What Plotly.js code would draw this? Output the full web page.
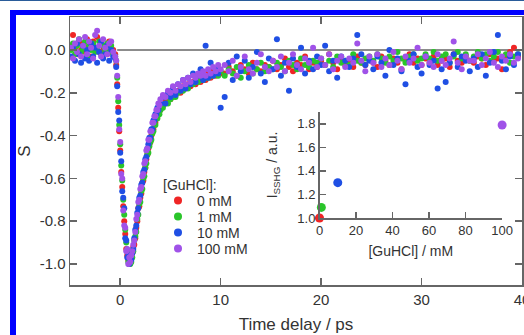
<!DOCTYPE html>
<html>
<head>
<meta charset="utf-8">
<script src="https://cdn.plot.ly/plotly-3.0.1.min.js"></script>
<style>
html,body{margin:0;padding:0;background:#fff;}
#wrap{position:relative;width:524px;height:335px;overflow:hidden;}
#chart{position:absolute;left:0;top:0;width:524px;height:335px;}
.bd{position:absolute;z-index:5;}
</style>
</head>
<body>
<div id="wrap">
<div id="chart"></div>
<div class="bd" style="left:0;top:0;width:524px;height:1px;background:#2a5c9a;"></div>
<div class="bd" style="left:10px;top:10px;width:514px;height:5px;background:#0000ff;"></div>
<div class="bd" style="left:10px;top:10px;width:6px;height:325px;background:#0000ff;"></div>
</div>
<script>
// ---- data ----
const timeDelay = [
  -4.9,-4.7,-4.5,-4.3,-4.1,-3.9,-3.7,-3.5,-3.3,-3.1,-2.9,-2.7,-2.5,-2.3,-2.1,-1.9,-1.7,-1.5,-1.3,-1.1,-0.9,-0.7,-0.5,
  -0.4,-0.3,-0.2,-0.1,0,0.1,0.2,0.3,0.4,0.5,0.6,
  0.7,0.8,0.9,1.0,1.1,1.2,1.3,1.4,
  1.5,1.6,1.7,1.8,1.9,2.0,2.1,2.2,2.3,2.4,2.5,2.6,2.7,2.8,2.9,3.0,3.1,3.2,3.3,3.4,3.5,3.6,3.7,3.8,3.9,4.0,
  4.25,4.5,4.75,5,5.25,5.5,5.75,6,6.25,6.5,6.75,7,7.25,7.5,7.75,8,8.25,8.5,8.75,9,9.25,9.5,9.75,10,
  10.4,10.8,11.2,11.6,12.0,12.4,12.8,13.2,13.6,14.0,14.4,14.8,
  15.2,15.6,16.0,16.4,16.8,17.2,17.6,18.0,18.4,18.8,19.2,19.6,
  20.0,20.4,20.8,21.2,21.6,22.0,22.4,22.8,23.2,23.6,24.0,24.4,24.8,
  25.2,25.6,26.0,26.4,26.8,27.2,27.6,28.0,28.4,28.8,29.2,29.6,30.0,
  30.4,30.8,31.2,31.6,32.0,32.4,32.8,33.2,33.6,34.0,34.4,34.8,
  35.2,35.6,36.0,36.4,36.8,37.2,37.6,38.0,38.4,38.8,39.2,39.6
];

const s0mM = [
  0.02,0.07,0.01,-0.02,0.04,0.00,0.03,-0.01,0.05,0.02,-0.03,0.04,0.01,0.06,-0.01,0.03,0.00,0.02,-0.02,0.04,0.01,0.00,-0.02,
  -0.07,-0.16,-0.27,-0.38,-0.47,-0.57,-0.64,-0.73,-0.80,-0.86,-0.93,
  -0.96,-0.98,-1.00,-0.98,-0.97,-0.95,-0.92,-0.91,
  -0.88,-0.83,-0.80,-0.74,-0.73,-0.69,-0.67,-0.62,-0.61,-0.57,-0.55,-0.51,-0.49,-0.46,-0.44,-0.43,-0.40,-0.38,-0.37,-0.34,-0.34,-0.31,-0.31,-0.29,-0.28,-0.28,
  -0.26,-0.24,-0.23,-0.23,-0.21,-0.21,-0.19,-0.20,-0.17,-0.18,-0.16,-0.17,-0.15,-0.16,-0.13,-0.15,-0.12,-0.14,-0.11,-0.13,-0.10,-0.12,-0.09,-0.11,
  -0.11,-0.08,-0.10,-0.12,-0.07,-0.09,-0.11,-0.06,-0.09,-0.10,-0.07,-0.08,
  -0.05,-0.09,-0.07,-0.04,-0.08,-0.10,-0.06,-0.07,-0.03,-0.09,-0.06,-0.08,
  -0.05,-0.07,-0.02,-0.06,-0.09,-0.04,-0.07,-0.05,-0.08,-0.03,-0.06,-0.07,-0.04,
  -0.06,-0.08,-0.03,-0.05,-0.07,-0.04,-0.06,-0.09,-0.05,-0.02,-0.06,-0.04,-0.07,
  -0.04,-0.06,-0.03,-0.07,-0.05,-0.04,-0.08,-0.02,-0.05,-0.06,-0.03,-0.05,
  -0.06,-0.03,-0.04,-0.07,-0.02,-0.05,-0.04,-0.09,-0.03,-0.01,0.01,-0.03
];

const s1mM = [
  0.00,0.03,-0.02,0.02,0.05,-0.01,0.01,0.04,-0.03,0.02,0.00,0.03,-0.01,0.01,0.04,-0.02,0.02,0.00,0.03,-0.01,0.02,-0.02,-0.03,
  -0.05,-0.13,-0.24,-0.35,-0.44,-0.54,-0.61,-0.70,-0.77,-0.84,-0.90,
  -0.94,-0.99,-0.98,-1.00,-0.99,-0.97,-0.94,-0.89,
  -0.87,-0.85,-0.79,-0.77,-0.72,-0.71,-0.66,-0.65,-0.60,-0.59,-0.55,-0.53,-0.49,-0.48,-0.45,-0.43,-0.42,-0.39,-0.38,-0.35,-0.35,-0.32,-0.32,-0.30,-0.30,-0.28,
  -0.27,-0.25,-0.25,-0.23,-0.22,-0.22,-0.20,-0.19,-0.19,-0.17,-0.18,-0.16,-0.16,-0.15,-0.15,-0.14,-0.14,-0.13,-0.13,-0.12,-0.12,-0.11,-0.12,-0.10,
  -0.12,-0.09,-0.11,-0.08,-0.13,-0.10,-0.07,-0.11,-0.09,-0.06,-0.10,-0.08,
  -0.09,-0.06,-0.08,-0.10,-0.05,-0.07,-0.09,-0.04,-0.07,-0.08,-0.05,-0.06,
  -0.04,-0.07,-0.05,-0.08,-0.03,-0.06,-0.05,-0.07,-0.02,-0.05,-0.06,-0.04,-0.03,
  -0.05,-0.02,-0.04,-0.06,-0.03,-0.05,-0.01,-0.04,-0.06,-0.03,-0.02,-0.05,-0.04,
  -0.02,-0.04,-0.01,-0.05,-0.03,-0.02,-0.06,-0.03,-0.01,-0.04,-0.02,-0.05,
  -0.03,-0.01,-0.04,-0.02,-0.05,-0.03,-0.01,-0.04,-0.02,-0.06,-0.03,-0.02
];

const s10mM = [
  -0.03,0.01,-0.05,0.03,-0.02,-0.06,0.02,-0.04,0.00,-0.05,0.03,-0.03,0.01,-0.06,-0.01,0.04,-0.04,-0.02,0.02,-0.05,0.00,-0.03,-0.04,
  -0.08,-0.17,-0.29,-0.33,-0.48,-0.52,-0.66,-0.69,-0.74,-0.88,-0.89,
  -0.97,-0.96,-1.00,-0.97,-0.98,-0.95,-0.93,-0.88,
  -0.84,-0.82,-0.76,-0.74,-0.69,-0.68,-0.63,-0.62,-0.57,-0.56,-0.51,-0.50,-0.46,-0.44,-0.41,-0.41,-0.37,-0.37,-0.33,-0.33,-0.30,-0.30,-0.27,-0.28,-0.25,-0.25,
  -0.22,-0.25,-0.20,-0.22,-0.18,-0.21,-0.16,-0.19,-0.14,-0.18,-0.13,-0.16,-0.11,-0.15,-0.12,-0.09,-0.14,0.02,-0.13,-0.06,-0.12,-0.09,-0.11,-0.27,
  -0.22,-0.06,-0.14,-0.03,-0.10,-0.05,-0.13,-0.08,-0.01,-0.11,-0.15,-0.04,
  -0.09,0.05,-0.12,-0.06,-0.19,-0.04,-0.08,0.01,-0.11,-0.05,-0.09,-0.03,
  -0.07,0.02,-0.10,-0.05,-0.13,-0.03,-0.05,-0.08,-0.04,0.07,-0.02,-0.07,-0.05,
  -0.09,-0.03,-0.06,-0.12,0.00,-0.07,-0.04,-0.10,-0.16,-0.05,-0.02,-0.08,-0.11,
  -0.03,-0.07,-0.05,-0.18,-0.09,-0.15,-0.06,-0.02,-0.08,-0.03,-0.05,-0.10,
  -0.04,-0.08,-0.02,-0.12,-0.06,-0.01,0.07,-0.05,-0.09,-0.03,-0.07,-0.02
];

const s100mM = [
  0.01,-0.04,0.03,-0.01,0.05,-0.03,0.02,0.06,-0.02,0.04,0.01,-0.04,0.07,0.09,0.02,-0.03,0.05,0.01,-0.02,0.03,0.04,-0.01,-0.03,
  -0.05,-0.12,-0.22,-0.37,-0.43,-0.58,-0.60,-0.75,-0.82,-0.83,-0.94,
  -0.93,-1.00,-0.97,-0.99,-0.96,-0.94,-0.91,-0.89,
  -0.85,-0.79,-0.77,-0.71,-0.70,-0.65,-0.64,-0.59,-0.58,-0.53,-0.52,-0.47,-0.46,-0.42,-0.42,-0.38,-0.38,-0.34,-0.34,-0.31,-0.31,-0.28,-0.28,-0.25,-0.26,-0.23,
  -0.21,-0.22,-0.19,-0.20,-0.17,-0.19,-0.16,-0.17,-0.14,-0.16,-0.13,-0.15,-0.12,-0.13,-0.11,-0.12,-0.10,-0.12,-0.09,-0.11,-0.08,-0.10,-0.07,-0.09,
  -0.07,-0.10,-0.05,-0.12,-0.08,-0.03,-0.09,-0.11,-0.06,-0.02,-0.08,-0.10,
  -0.05,-0.08,-0.03,-0.10,-0.06,-0.02,-0.07,-0.09,-0.04,-0.06,0.01,-0.08,
  -0.04,-0.07,-0.02,-0.09,-0.05,-0.03,-0.08,-0.04,-0.06,0.03,-0.05,-0.10,-0.03,
  -0.06,-0.02,-0.08,-0.04,-0.07,-0.01,-0.05,-0.09,-0.03,-0.06,-0.04,0.01,-0.07,
  -0.03,-0.06,-0.08,-0.02,-0.05,-0.07,-0.04,0.04,-0.06,-0.09,-0.03,-0.05,
  -0.05,-0.02,-0.07,-0.04,-0.01,-0.06,-0.08,-0.03,-0.05,-0.02,-0.06,-0.04
];

const baselineX = [-0.3, 40];
const baselineY = [0, 0];

const legendTitle = '[GuHCl]:';
const seriesNames = ['0 mM', '1 mM', '10 mM', '100 mM'];
const guhclConc = [0, 1, 10, 100];
const isshg = [1.0, 1.09, 1.30, 1.79];

const xTickVals = [0, 10, 20, 30, 40];
const xTickText = ['0', '10', '20', '30', '40'];
const yTickVals = [-1.0, -0.8, -0.6, -0.4, -0.2, 0.0];
const yTickText = ['-1.0', '-0.8', '-0.6', '-0.4', '-0.2', '0.0'];
const x2TickVals = [0, 20, 40, 60, 80, 100];
const x2TickText = ['0', '20', '40', '60', '80', '100'];
const y2TickVals = [1.0, 1.2, 1.4, 1.6, 1.8];
const y2TickText = ['1.0', '1.2', '1.4', '1.6', '1.8'];

// ---- styles ----
const colors = ['#ef2525', '#2ac52a', '#1f4fe4', '#a052e8'];
const allSeries = [s0mM, s1mM, s10mM, s100mM];
allSeries.forEach((s, i) => {
  if (s.length !== timeDelay.length) throw new Error('length mismatch series ' + i + ': ' + s.length + ' vs ' + timeDelay.length);
});

const W = 524, H = 335;
const M = {l: 70, r: 2, t: 17, b: 50};
const pw = W - M.l - M.r, ph = H - M.t - M.b;
const px2paperX = p => (p - M.l) / pw;
const px2paperY = p => (H - M.b - p) / ph;

const axisCol = '#666';
const traces = [{
  x: baselineX, y: baselineY, type: 'scatter', mode: 'lines',
  line: {color: axisCol, width: 1.5}, showlegend: false, hoverinfo: 'skip',
  xaxis: 'x', yaxis: 'y'
}];
allSeries.forEach((s, i) => {
  traces.push({
    x: timeDelay, y: s, type: 'scatter', mode: 'markers',
    marker: {color: colors[i], size: 6},
    name: seriesNames[i], showlegend: false, xaxis: 'x', yaxis: 'y'
  });
});
guhclConc.forEach((c, i) => {
  traces.push({
    x: [c], y: [isshg[i]], type: 'scatter', mode: 'markers',
    marker: {color: colors[i], size: 9},
    name: seriesNames[i], showlegend: false, cliponaxis: false,
    xaxis: 'x2', yaxis: 'y2'
  });
});

// hand-placed legend (compact spacing like the original)
const legFont = {size: 14, color: '#333'};
const legTitleY = 185, legRowY0 = 200.5, legRowStep = 16, legDotX = 178, legTextX = 195;
const annotations = [{
  xref: 'paper', yref: 'paper', x: px2paperX(161), y: px2paperY(legTitleY),
  xanchor: 'left', yanchor: 'middle', text: legendTitle, showarrow: false, font: legFont
}];
const shapes = [];
seriesNames.forEach((n, i) => {
  const yy = legRowY0 + i * legRowStep;
  annotations.push({
    xref: 'paper', yref: 'paper', x: px2paperX(legTextX), y: px2paperY(yy),
    xanchor: 'left', yanchor: 'middle', text: n, showarrow: false, font: legFont
  });
  shapes.push({
    type: 'circle', xref: 'paper', yref: 'paper',
    xsizemode: 'pixel', ysizemode: 'pixel',
    xanchor: px2paperX(legDotX), yanchor: px2paperY(yy),
    x0: -4, x1: 4, y0: -4, y1: 4,
    fillcolor: colors[i], line: {width: 0}
  });
});

const baseAxis = {
  showline: true, linecolor: axisCol, linewidth: 1.5,
  ticks: 'inside', tickcolor: axisCol, tickwidth: 1.5,
  showgrid: false, zeroline: false, tickmode: 'array'
};

const layout = {
  width: W, height: H,
  margin: {l: M.l, r: M.r, t: M.t, b: M.b, pad: 0},
  paper_bgcolor: '#ffffff', plot_bgcolor: 'rgba(0,0,0,0)',
  font: {family: '"Liberation Sans", Arial, Helvetica, sans-serif', color: '#333', size: 15},
  showlegend: false,
  annotations: annotations,
  shapes: shapes,
  xaxis: Object.assign({}, baseAxis, {
    domain: [0, 1], anchor: 'y', range: [-5, 40],
    tickvals: xTickVals, ticktext: xTickText, ticklen: 7, mirror: 'ticks',
    ticklabeloverflow: 'allow',
    title: {text: 'Time delay / ps', font: {size: 17}, standoff: 11}
  }),
  yaxis: Object.assign({}, baseAxis, {
    domain: [0, 1], anchor: 'x', range: [-1.098, 0.154],
    tickvals: yTickVals, ticktext: yTickText, ticklen: 7, mirror: 'ticks',
    title: {text: 'S', font: {size: 17}, standoff: 4}
  }),
  xaxis2: Object.assign({}, baseAxis, {
    domain: [0.552, 0.956], anchor: 'y2', range: [0, 100],
    tickvals: x2TickVals, ticktext: x2TickText, ticklen: 6,
    tickfont: {size: 13},
    title: {text: '[GuHCl] / mM', font: {size: 14}, standoff: 9}
  }),
  yaxis2: Object.assign({}, baseAxis, {
    domain: [0.25, 0.6455], anchor: 'x2', range: [1.0, 1.9],
    tickvals: y2TickVals, ticktext: y2TickText, ticklen: 6,
    tickfont: {size: 13},
    title: {text: 'I<sub>SSHG</sub> / a.u.', font: {size: 14}, standoff: 16}
  })
};

Plotly.newPlot('chart', traces, layout, {staticPlot: true, displayModeBar: false});
</script>
</body>
</html>
